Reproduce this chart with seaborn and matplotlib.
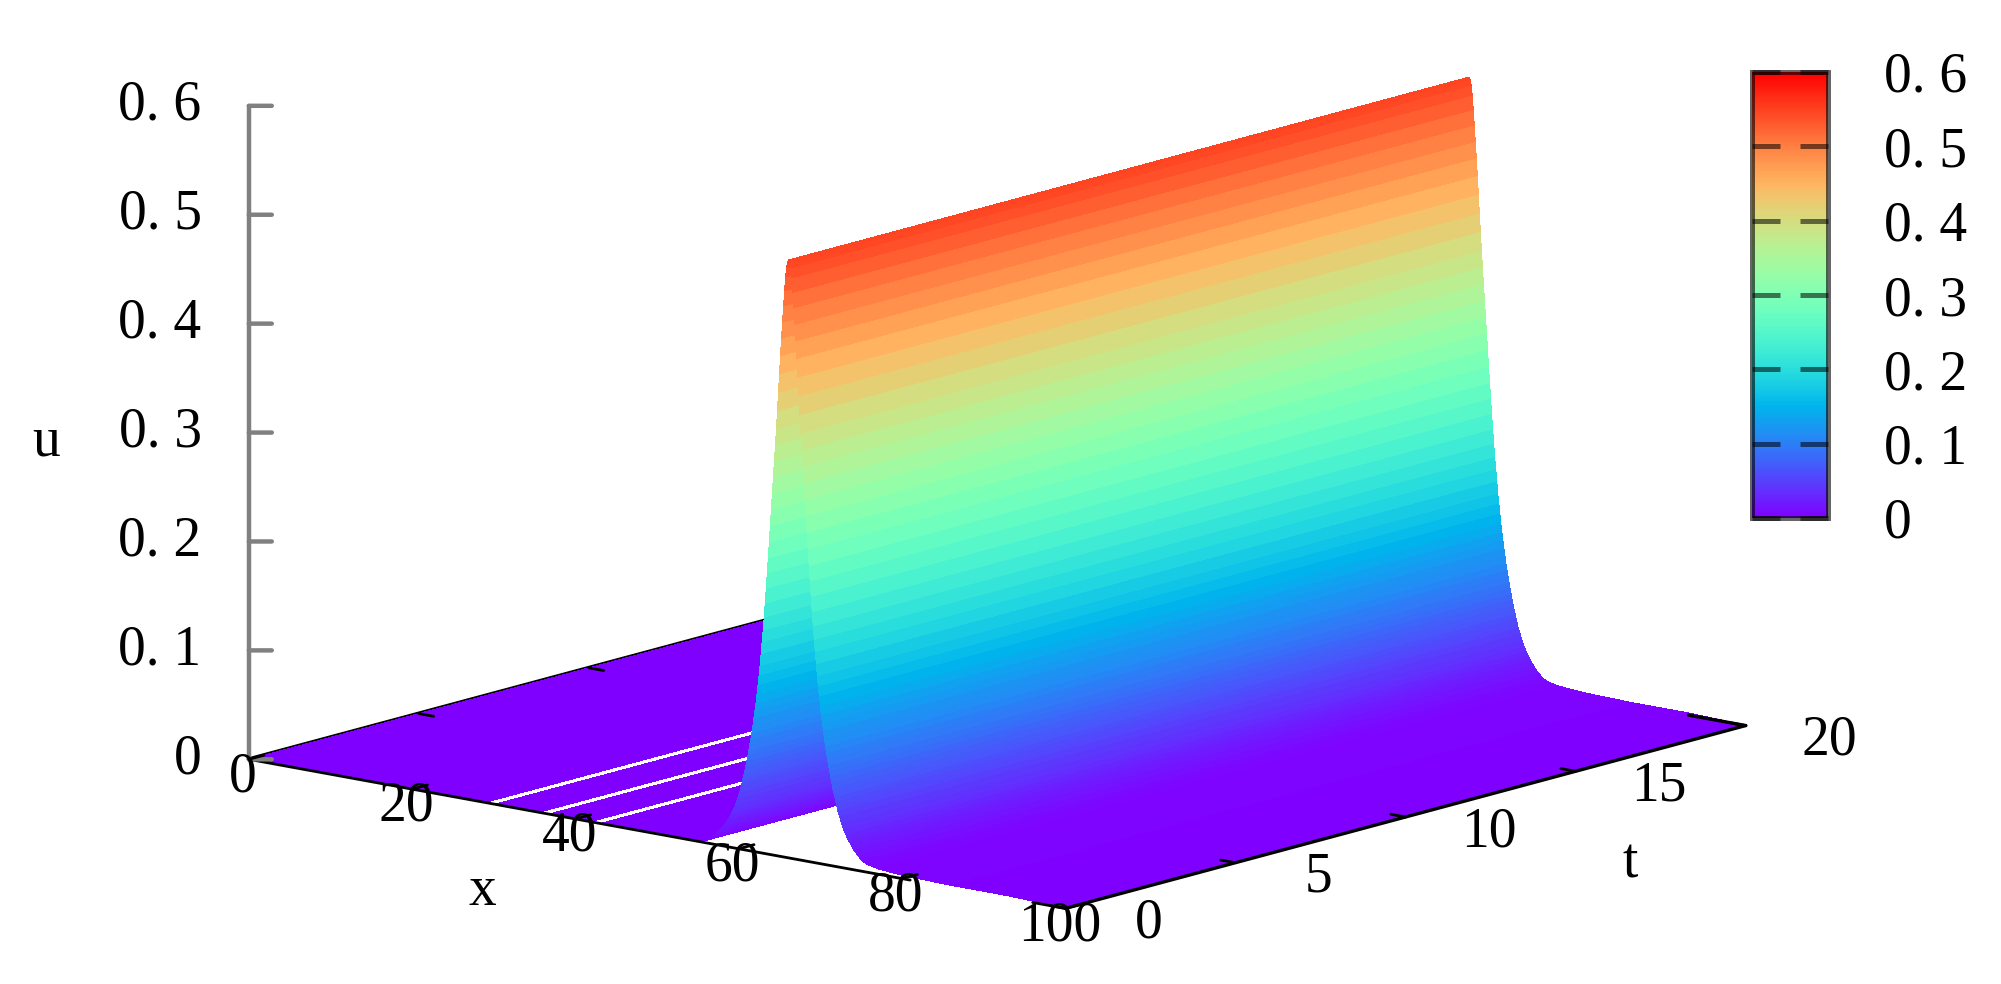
import numpy as np
import matplotlib
matplotlib.use("Agg")
import matplotlib.pyplot as plt
import seaborn as sns
from matplotlib.cm import ScalarMappable
from matplotlib.colors import Normalize
from mpl_toolkits.mplot3d import proj3d

W, H = 2001, 984

# profile u(x) read off the silhouettes, the ridge does not move with t
x_floor = [0, 5, 10, 15, 20, 25, 29.25, 30.15, 33, 35.85, 36.75, 40, 42.15, 43.05, 46, 50, 53]
u_floor = [0, 0, 0, 0, 0, 0, 0, 0, 0, 0, 0, 0, 0, 0, 0, 0, 0]
gap_starts = [29.25, 35.85, 42.15]   # white stripes on the floor

x_left = [55.125, 55.625, 56.125, 56.625, 57.125, 57.625, 58.125, 58.375, 58.625, 58.875, 59.125, 59.375, 59.625, 59.875,
          60.125, 60.25, 60.375, 60.5, 60.625, 60.75, 60.875, 61,
          61.125, 61.25, 61.375, 61.5, 61.625, 61.75, 61.875, 62,
          62.125, 62.25, 62.375, 62.5, 62.625, 62.75, 62.875, 63,
          63.125, 63.25, 63.375, 63.5, 63.625, 63.75, 63.875, 64,
          64.125, 64.25, 64.375, 64.5, 64.625, 64.75, 64.875, 65,
          65.125, 65.25, 65.375, 65.5, 65.625, 65.75, 65.875, 66]
u_left = [0, 0.001, 0.003, 0.006, 0.0095, 0.0135, 0.018, 0.021, 0.024, 0.027, 0.031, 0.035, 0.04, 0.046,
          0.052, 0.056, 0.06, 0.064, 0.068, 0.072, 0.077, 0.082,
          0.087, 0.092, 0.098, 0.103, 0.109, 0.116, 0.123, 0.13,
          0.137, 0.145, 0.154, 0.163, 0.172, 0.183, 0.194, 0.205,
          0.217, 0.23, 0.244, 0.258, 0.272, 0.287, 0.302, 0.317,
          0.332, 0.347, 0.362, 0.377, 0.392, 0.409, 0.426, 0.443,
          0.46, 0.476, 0.491, 0.506, 0.52, 0.533, 0.542, 0.547]

x_right = [66.125, 66.25, 66.375, 66.5, 66.625, 66.75, 66.875, 67, 67.125,
           67.25, 67.375, 67.5, 67.625, 67.75, 67.875, 68, 68.125,
           68.25, 68.375, 68.5, 68.625, 68.75, 68.875, 69, 69.125,
           69.25, 69.375, 69.5, 69.625, 69.75, 69.875, 70, 70.125,
           70.25, 70.375, 70.5, 70.625, 70.75, 70.875, 71, 71.125,
           71.25, 71.375, 71.5, 71.625, 71.75, 71.875, 72, 72.125,
           72.375, 72.625, 72.875, 73.125, 73.375, 73.625, 73.875, 74.125,
           74.625, 75.125, 75.625, 76.125, 77, 78.5, 80.5, 86, 93, 97, 100]
u_right = [0.549, 0.547, 0.542, 0.533, 0.52, 0.506, 0.491, 0.476, 0.46,
           0.443, 0.426, 0.409, 0.392, 0.377, 0.362, 0.347, 0.332,
           0.317, 0.302, 0.287, 0.272, 0.258, 0.244, 0.23, 0.217,
           0.205, 0.194, 0.183, 0.172, 0.163, 0.154, 0.145, 0.137,
           0.13, 0.123, 0.116, 0.109, 0.103, 0.098, 0.092, 0.087,
           0.082, 0.077, 0.072, 0.068, 0.064, 0.06, 0.056, 0.052,
           0.046, 0.04, 0.035, 0.031, 0.027, 0.024, 0.021, 0.018,
           0.0135, 0.0095, 0.0075, 0.0065, 0.005, 0.004, 0.003, 0.002, 0.002, 0.001, 0]

t_values = [0, 1, 2, 3, 4, 5, 6, 7, 8, 9, 10, 11, 12, 13, 14, 15, 16, 17, 18, 19, 20]

x_ticks = [0, 20, 40, 60, 80, 100]
t_ticks = [0, 5, 10, 15, 20]
u_ticks = [0, 0.1, 0.2, 0.3, 0.4, 0.5, 0.6]
u_labels = ["0", "0. 1", "0. 2", "0. 3", "0. 4", "0. 5", "0. 6"]

sns.set_theme(style="white")
plt.rcParams["font.family"] = ["Liberation Serif", "DejaVu Serif"]
plt.rcParams["axes.axisbelow"] = False
FS = 40

cmap = sns.color_palette("rainbow", as_cmap=True)
norm = Normalize(0, 0.6)

fig = plt.figure(figsize=(W / 100, H / 100), dpi=100, facecolor="white")
ax = fig.add_axes([0, -0.5, 1, 2], projection="3d")
ax.set_proj_type("ortho")
ax.view_init(elev=12.8, azim=-50.5)
ax.set_xlim(0, 100, view_margin=0)
ax.set_ylim(0, 20, view_margin=0)
ax.set_zlim(0, 0.6, view_margin=0)
ax.set_xticks([])
ax.set_yticks([])
ax.set_zticks([])
aspect = (829, 838, 525)
ax.set_box_aspect(aspect)
ax.set_axis_off()
ax.computed_zorder = False

# surface, one colour per quad like pm3d
x_values = x_floor + x_left + x_right
u_values = u_floor + u_left + u_right
X, T = np.meshgrid(x_values, t_values)
U = np.tile(u_values, (len(t_values), 1))
u_arr = np.array(u_values)
mid = np.append((u_arr[:-1] + u_arr[1:]) / 2, u_arr[-1])
colors = cmap(norm(mid))
for g in gap_starts:
    colors[x_values.index(g)] = (1, 1, 1, 1)
colors = np.tile(colors, (len(t_values), 1, 1))

# back border goes under the surface
ax.plot([0, 0], [0, 20], [0, 0], color="black", lw=3, zorder=1)
ax.plot_surface(X, T, U, facecolors=colors, rstride=1, cstride=1, shade=False,
                linewidth=0, antialiased=False, zorder=2)

ax.plot([0, 81], [0, 0], [0, 0], color="black", lw=2, zorder=3)
ax.plot([96, 100], [0, 0], [0, 0], color="black", lw=2, zorder=3)
ax.plot([100, 100], [0, 20], [0, 0], color="black", lw=2.4, zorder=3)
ax.plot([93, 100], [20, 20], [0, 0], color="black", lw=2.4, zorder=3)
ax.plot([0, 0], [0, 0], [0, 0.6], color="gray", lw=3.2, zorder=3)

for v in u_ticks:
    ax.plot([0, 1.68], [0, 0.273], [v, v], color="gray", lw=3.2, zorder=3)
for v in x_ticks:
    ax.plot([v, v], [0, 0.45], [0, 0], color="black", lw=2, zorder=3)
for v in t_ticks:
    ax.plot([100, 98.2], [v, v], [0, 0], color="black", lw=2, zorder=3)
for v in t_ticks[1:3]:
    ax.plot([0, 1.8], [v, v], [0, 0], color="black", lw=2, zorder=3)


def to_px(x, y, z):
    px, py, _ = proj3d.proj_transform(x, y, z, ax.get_proj())
    return ax.transData.transform((px, py))


# pin the box onto the reference corners
fig.canvas.draw()
a, c = to_px(0, 0, 0), to_px(100, 20, 0)
ax.set_box_aspect(aspect, zoom=1497.3 / np.hypot(*(c - a)))
fig.canvas.draw()
a = to_px(0, 0, 0)
ax.set_position([(248.8 - a[0]) / W, -0.5 + (H - 759.3 - a[1]) / H, 1, 2])
fig.canvas.draw()


def label(x, y, z, s, ha="center"):
    px, py = to_px(x, y, z)
    fig.text(px / W, py / H, s, ha=ha, va="center", fontsize=FS, color="black")


for v, lab in zip(u_ticks, u_labels):
    label(-3.45, -0.56, v, lab, ha="right")
for v in x_ticks:
    label(v - 0.1, -0.15, -0.0152, str(v))
for v in t_ticks:
    label(110.2, v, 0, str(v))

fig.text(46 / W, 1 - 441 / H, "u", ha="center", va="center", fontsize=FS, color="black")
fig.text(482 / W, 1 - 891 / H, "x", ha="center", va="center", fontsize=FS, color="black")
fig.text(1630 / W, 1 - 863 / H, "t", ha="center", va="center", fontsize=FS, color="black")

# colour box
cax = fig.add_axes([1752 / W, 1 - 518 / H, 76 / W, 446 / H])
cbar = fig.colorbar(ScalarMappable(norm=norm, cmap=cmap), cax=cax)
cbar.set_ticks(u_ticks, labels=u_labels)
cax.tick_params(left=True, right=True, direction="in", length=20, width=3.6, color=(0, 0, 0, 0.55),
                labelsize=FS, labelcolor="black", pad=40)
cbar.outline.set_edgecolor((0, 0, 0, 0.6))
cbar.outline.set_linewidth(3.6)

fig.savefig("out.png", dpi=100)
